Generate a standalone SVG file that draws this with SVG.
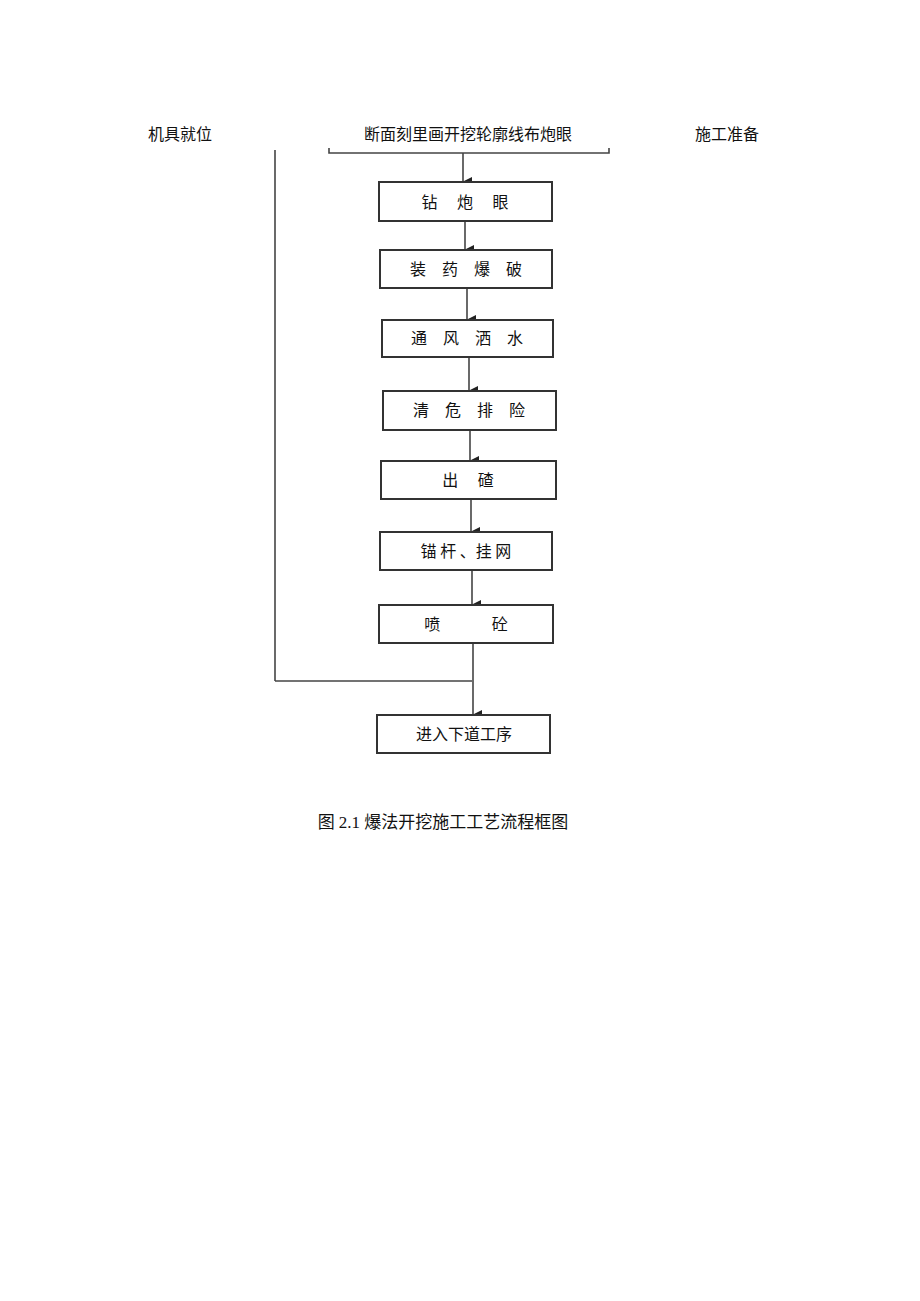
<svg xmlns="http://www.w3.org/2000/svg" width="920" height="1301" viewBox="0 0 920 1301">
<defs><marker id="a" markerWidth="10" markerHeight="10" refX="5" refY="9" orient="auto" markerUnits="userSpaceOnUse"><path d="M0,0 L10,0 L5,10 Z" fill="#222"/></marker></defs>
<style>
rect{fill:#fff;stroke:#333;stroke-width:2}
text{font-family:"Noto Sans CJK SC",sans-serif;font-size:16px;fill:#111;text-anchor:middle}
.c line,.c path{stroke:#444;stroke-width:1.6;fill:none}
.cap{font-family:"Liberation Serif","Noto Sans CJK SC",serif;font-size:17px}
</style>
<text x="180" y="140">机具就位</text>
<text x="468" y="140">断面刻里画开挖轮廓线布炮眼</text>
<text x="727" y="140">施工准备</text>
<g class="c">
<path d="M329,148 V153 H609 V148"/>
<line x1="275" y1="150" x2="275" y2="681"/>
<line x1="275" y1="681" x2="472" y2="681"/>
<line x1="463" y1="153" x2="463" y2="182" marker-end="url(#a)"/>
<line x1="465" y1="221" x2="465" y2="250" marker-end="url(#a)"/>
<line x1="467" y1="288" x2="467" y2="320" marker-end="url(#a)"/>
<line x1="469" y1="357" x2="469" y2="391" marker-end="url(#a)"/>
<line x1="470" y1="430" x2="470" y2="461" marker-end="url(#a)"/>
<line x1="471" y1="499" x2="471" y2="532" marker-end="url(#a)"/>
<line x1="472" y1="570" x2="472" y2="605" marker-end="url(#a)"/>
<line x1="473" y1="643" x2="473" y2="715" marker-end="url(#a)"/>
</g>
<g id="n1"><rect x="379" y="182" width="173" height="39"/><text x="465" y="208">钻　 炮　 眼</text></g>
<g id="n2"><rect x="380" y="250" width="172" height="38"/><text x="466" y="275">装　药　爆　破</text></g>
<g id="n3"><rect x="382" y="320" width="171" height="37"/><text x="467" y="344">通　风　洒　水</text></g>
<g id="n4"><rect x="383" y="391" width="173" height="39"/><text x="469" y="416">清　危　排　险</text></g>
<g id="n5"><rect x="381" y="461" width="175" height="38"/><text x="468" y="486">出　 碴</text></g>
<g id="n6"><rect x="380" y="532" width="172" height="38"/><text x="466" y="557">锚 杆 、挂 网</text></g>
<g id="n7"><rect x="379" y="605" width="174" height="38"/><text x="466" y="630">喷　　　 砼</text></g>
<g id="n8"><rect x="377" y="715" width="173" height="38"/><text x="464" y="740">进入下道工序</text></g>
<text class="cap" x="443" y="828">图 2.1 爆法开挖施工工艺流程框图</text>
</svg>
